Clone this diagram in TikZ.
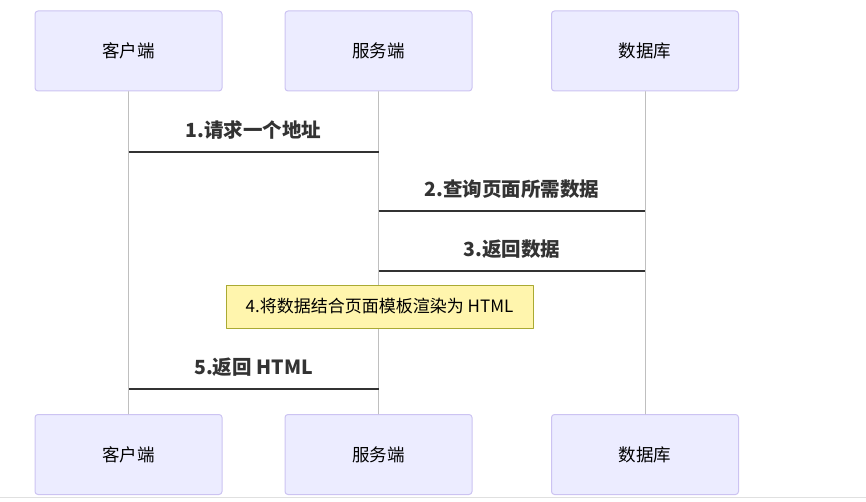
\documentclass[tikz,border=0pt]{standalone}
\usepackage{fontspec}
\newfontfamily\cjk{Noto Sans CJK SC}
\definecolor{actorfill}{HTML}{ECECFF}
\definecolor{actorline}{HTML}{CCC3F2}
\definecolor{notefill}{HTML}{FFF5AD}
\definecolor{noteline}{HTML}{AAAA33}
\definecolor{msgcol}{HTML}{333333}
\begin{document}
\begin{tikzpicture}[line join=round, line cap=round, x=1pt, y=-1pt]
 \def \ytop{51} \def \ybot{454.5}
 \tikzset{actor/.style={draw=actorline, line width=1pt, fill=actorfill, rounded corners=3pt, minimum width=187pt, minimum height=80pt, font=\cjk\fontsize{17.5}{19}\selectfont},
  life/.style={draw=black!25, line width=0.8pt},
  msg/.style={draw=msgcol, line width=1.6pt, line cap=butt},
  msglabel/.style={font=\cjk\bfseries\fontsize{19.5}{22}\selectfont, text=msgcol, inner sep=0pt},
  note/.style={draw=noteline, fill=notefill, minimum width=307pt, minimum height=43pt, font=\cjk\fontsize{17}{19}\selectfont}}
 \useasboundingbox (0,0) rectangle (866,502);
 \draw[black!12, line width=0.8pt] (0,497)--(866,497);
 \node[actor] (kh) at (128.5,\ytop) {客户端};
 \node[actor] (fw) at (378.5,\ytop) {服务端};
 \node[actor] (sj) at (645,\ytop) {数据库};
 \node[actor] (khd) at (128.5,\ybot) {客户端};
 \node[actor] (fwd) at (378.5,\ybot) {服务端};
 \node[actor] (sjd) at (645,\ybot) {数据库};
 \draw[life] (kh)--(khd) (fw)--(fwd) (sj)--(sjd);
 \foreach \n/\y in {1/152,2/211,3/271,5/389} {
  \coordinate (kh-\n) at (kh |- 0,\y);
  \coordinate (fw-\n) at (fw |- 0,\y);
  \coordinate (sj-\n) at (sj |- 0,\y);
 }
 \draw[msg] (kh-1)--(fw-1) node[msglabel, midway, yshift=22pt] {1.请求一个地址};
 \draw[msg] (fw-2)--(sj-2) node[msglabel, midway, yshift=22pt] {2.查询页面所需数据};
 \draw[msg] (sj-3)--(fw-3) node[msglabel, midway, yshift=22pt] {3.返回数据};
 \node[note] (tb) at (379.5,306.5) {4.将数据结合页面模板渲染为 HTML};
 \draw[msg] (fw-5)--(kh-5) node[msglabel, midway, yshift=22pt] {5.返回 HTML};
\end{tikzpicture}
\end{document}
